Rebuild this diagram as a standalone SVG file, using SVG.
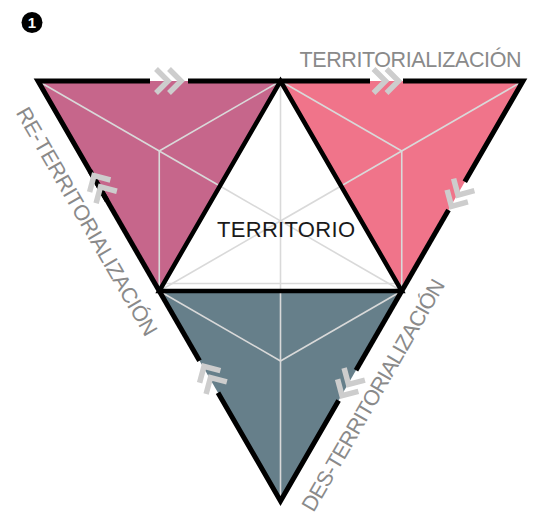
<svg xmlns="http://www.w3.org/2000/svg" width="534" height="517" viewBox="0 0 534 517">
<style>
.edge{fill:none;stroke:#000;stroke-width:5;stroke-linejoin:miter;stroke-linecap:butt}
.inner{fill:none;stroke:#000;stroke-width:4.5;stroke-linejoin:miter}
.spoke{stroke:#d9d9d9;stroke-width:1.6;fill:none}
.chev{fill:none;stroke:#cdcdcd;stroke-width:5.5;stroke-linejoin:miter;stroke-linecap:butt}
.label{font-family:"Liberation Sans",Arial,sans-serif;font-size:21.5px;fill:#8a8a8a}
.center{font-family:"Liberation Sans",Arial,sans-serif;font-size:22px;fill:#1a1a1a}
</style>
<defs>
<g id="chevron" class="chev"><polyline points="-13,-12 -1,0 -13,12"/><polyline points="0,-12 12,0 0,12"/></g>
</defs>
<rect width="534" height="517" fill="#fff"/>
<g id="badge">
<circle cx="32" cy="22.5" r="10.5" fill="#000"/>
<text x="32" y="28" text-anchor="middle" style="font-family:'Liberation Sans',Arial,sans-serif;font-size:15px;font-weight:bold;fill:#fff">1</text>
</g>
<g id="tri-top-left">
<polygon points="38,81 280.5,81 159.25,291" fill="#c6668b"/>
<line class="spoke" x1="38" y1="81" x2="219.9" y2="186"/>
<line class="spoke" x1="159.25" y1="151" x2="280.5" y2="81"/>
<line class="spoke" x1="159.25" y1="151" x2="159.25" y2="291"/>
</g>
<g id="tri-top-right">
<polygon points="280.5,81 523,81 401.75,291" fill="#f0748a"/>
<line class="spoke" x1="523" y1="81" x2="341.1" y2="186"/>
<line class="spoke" x1="401.75" y1="151" x2="280.5" y2="81"/>
<line class="spoke" x1="401.75" y1="151" x2="401.75" y2="291"/>
</g>
<g id="tri-bottom">
<polygon points="159.25,291 401.75,291 280.5,501" fill="#667f8a"/>
<line class="spoke" x1="280.5" y1="291" x2="280.5" y2="501"/>
<line class="spoke" x1="280.5" y1="361" x2="159.25" y2="291"/>
<line class="spoke" x1="280.5" y1="361" x2="401.75" y2="291"/>
</g>
<g id="territorio">
<polygon points="280.5,81 401.75,291 159.25,291" fill="#fff"/>
<line class="spoke" x1="280.5" y1="81" x2="280.5" y2="291"/>
<line class="spoke" x1="159.25" y1="291" x2="341.1" y2="186"/>
<line class="spoke" x1="401.75" y1="291" x2="219.9" y2="186"/>
<line class="spoke" x1="164" y1="283.5" x2="397" y2="283.5"/>
<polygon class="inner" points="280.5,81 401.75,291 159.25,291"/>
<text class="center" x="286" y="237" text-anchor="middle" textLength="138">TERRITORIO</text>
</g>
<g id="connectors">
<polyline class="edge" points="107.1,200.7 38,81 150,81"/>
<polyline class="edge" points="188,81 370,81"/>
<polyline class="edge" points="403,81 523,81 464.8,181.8"/>
<polyline class="edge" points="448.5,210 356,370.2"/>
<polyline class="edge" points="338.6,400.4 280.5,501 218,392.75"/>
<polyline class="edge" points="199.5,360.7 89.75,170.6"/>
<use href="#chevron" transform="translate(169,81)"/>
<use href="#chevron" transform="translate(386.5,81)"/>
<use href="#chevron" transform="translate(457.5,195.9) rotate(120)"/>
<use href="#chevron" transform="translate(348,385.3) rotate(120)"/>
<use href="#chevron" transform="translate(210,376.7) rotate(-120)"/>
<use href="#chevron" transform="translate(100,186) rotate(-120)"/>
</g>
<g id="labels">
<text class="label" x="410.5" y="67" text-anchor="middle" textLength="222">TERRITORIALIZACIÓN</text>
<text class="label" transform="translate(80.4,225.1) rotate(60)" x="0" y="0" text-anchor="middle" textLength="260">RE-TERRITORIALIZACIÓN</text>
<text class="label" transform="translate(379.6,398.8) rotate(-60)" x="0" y="0" text-anchor="middle" textLength="264">DES-TERRITORIALIZACIÓN</text>
</g>
</svg>
